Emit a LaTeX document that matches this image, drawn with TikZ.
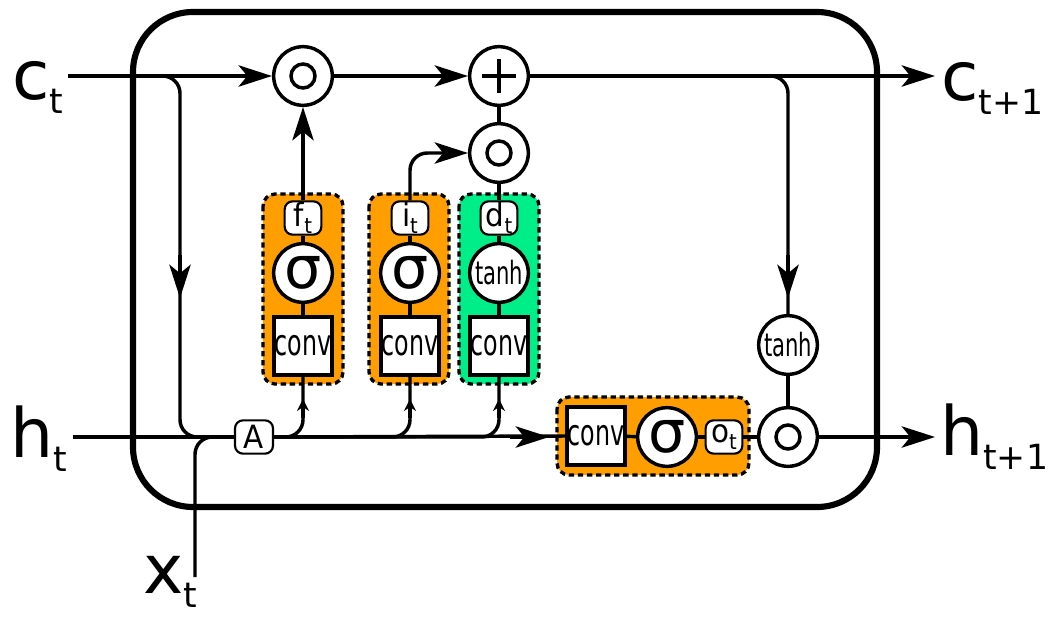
\documentclass[tikz,border=0pt]{standalone}
\usepackage{fontspec}
\setmainfont{DejaVu Sans}
\newfontfamily\condf[FakeStretch=0.66]{DejaVu Sans}
\newfontfamily\lblf[FakeStretch=0.92]{DejaVu Sans}
\usetikzlibrary{arrows.meta}
\definecolor{gorange}{RGB}{255,158,0}
\definecolor{ggreen}{RGB}{0,238,136}
\newcommand\biglbl[2]{{\fontsize{51}{51}\selectfont #1\raisebox{-11pt}{\fontsize{26}{26}\selectfont #2}}}
\newcommand\gatelbl[2]{{\lblf\fontsize{24}{24}\selectfont #1\raisebox{-5pt}{\fontsize{16}{16}\selectfont #2}}}
\begin{document}
\begin{tikzpicture}[x=0.75pt,y=-0.75pt,
  ln/.style={line width=2.6pt},
  arr/.style={ln,-{Stealth[length=25pt,width=16pt,inset=6.5pt]}},
  sarr/.style={ln,-{Stealth[length=9pt,width=9pt,inset=3pt]}},
  opc/.style={circle,draw,line width=2.6pt,fill=white,minimum size=44pt,inner sep=0pt},
  sigc/.style={circle,draw,line width=2.6pt,fill=white,minimum size=44pt,inner sep=0pt,font=\fontsize{44}{44}\selectfont},
  tanhc/.style={circle,draw,line width=2.6pt,fill=white,minimum size=44pt,inner sep=0pt,font=\condf\fontsize{24}{24}\selectfont},
  convbox/.style={rectangle,draw,line width=2.8pt,fill=white,minimum size=43.5pt,inner sep=0pt,font=\condf\fontsize{27}{27}\selectfont},
  lblbox/.style={rectangle,rounded corners=6pt,draw,line width=1.6pt,fill=white,minimum width=27.5pt,minimum height=25pt,inner sep=0pt},
  gatebg/.style={line width=2.5pt,dash pattern=on 4pt off 2.8pt,rounded corners=9pt},
  biglabel/.style={anchor=base west,inner sep=0pt},
]
\useasboundingbox (0,0) rectangle (1049,617);

% outer cell
\draw[line width=4.6pt, rounded corners=45pt] (133,12) rectangle (877,507);

% gate backgrounds
\draw[gatebg, fill=gorange] (263,194) rectangle (343,384);
\draw[gatebg, fill=gorange] (369,194) rectangle (449,384);
\draw[gatebg, fill=ggreen]  (459,194) rectangle (539,384);
\draw[gatebg, fill=gorange] (557,397) rectangle (749,475);

% outer labels
\node[biglabel] (ct)  at (12,99)   {\biglbl{c}{t}};
\node[biglabel] (ct1) at (941,100) {\biglbl{c}{t+1}};
\node[biglabel] (ht)  at (10,457)  {\biglbl{h}{t}};
\node[biglabel] (ht1) at (940,455) {\biglbl{h}{t+1}};
\node[biglabel] (xt)  at (143,593) {\biglbl{x}{t}};

% operator nodes
\node[opc] (mulf) at (303,76) {};
\node[opc] (plus) at (499,76) {};
\node[opc] (muli) at (499,153) {};
\node[opc] (outmul) at (788,437) {};
\node[tanhc] (tanhcell) at (788,345) {tanh};

\foreach \n in {mulf,muli,outmul}
  \draw[line width=2.6pt] (\n.center) circle[radius=9pt];
\draw[line width=2.8pt] ([xshift=-12.4pt]plus.center) -- ([xshift=12.4pt]plus.center);
\draw[line width=2.8pt] ([yshift=-12.4pt]plus.center) -- ([yshift=12.4pt]plus.center);

% forget gate
\node[lblbox] (flab) at (303,218) {\gatelbl{f}{t}};
\node[sigc]   (fsig) at (303,273) {σ};
\node[convbox] (fconv) at (303,346) {conv};
% input gate
\node[lblbox] (ilab) at (410,218) {\gatelbl{i}{t}};
\node[sigc]   (isig) at (410,273) {σ};
\node[convbox] (iconv) at (410,346) {conv};
% candidate
\node[lblbox] (dlab) at (499,218) {\gatelbl{d}{t}};
\node[tanhc]  (dtanh) at (499,273) {tanh};
\node[convbox] (dconv) at (499,346) {conv};
% output gate
\node[convbox] (oconv) at (596,436) {conv};
\node[sigc]   (osig) at (667,437) {σ};
\node[lblbox] (olab) at (724,437) {\gatelbl{o}{t}};

% A node
\node[lblbox, font=\lblf\fontsize{24}{24}\selectfont, minimum width=28.5pt, minimum height=25pt] (A) at (254,437) {A};

% coordinates
\coordinate (cin) at (68,76);
\coordinate (cout) at (935,76);
\coordinate (hin) at (73,437);
\coordinate (hout) at (935,437);
\coordinate (cbrA) at (150,76);
\coordinate (cbrB) at (180,76);
\coordinate (cbrT1) at (180,255);
\coordinate (cbrT2) at (180,298);
\coordinate (xin) at (195,577);
\coordinate (ctap) at (740,76);
\coordinate (tT1) at (788,255);
\coordinate (tT2) at (788,298);
\coordinate (hT1) at (510,437);
\coordinate (hT2) at (549,437);
\coordinate (fT1) at (303,418);
\coordinate (fT2) at (303,399);
\coordinate (iT1) at (410,418);
\coordinate (iT2) at (410,399);
\coordinate (dT1) at (499,418);
\coordinate (dT2) at (499,399);

% cell state line
\draw[arr] (cin) -- (mulf);
\draw[arr] (mulf) -- (plus);
\draw[arr] (plus) -- (cout);

% c -> h branch
\draw[ln, rounded corners=13pt] (cbrA) -- (cbrB) |- (A.west);
\draw[arr] (cbrT1) -- (cbrT2);
% x input
\draw[ln, rounded corners=13pt] (xin) |- (A.west);
% h input
\draw[ln] (hin) -- (A.west);
\draw[ln] (A.east) -- (oconv.west);
\draw[arr] (hT1) -- (hT2);

% branches from A
\draw[ln, rounded corners=13pt] (A.east) -| (fconv.south);
\draw[ln, rounded corners=13pt] (A.east) -| (iconv.south);
\draw[ln, rounded corners=13pt] (A.east) -| (dconv.south);
\draw[sarr] (fT1) -- (fT2);
\draw[sarr] (iT1) -- (iT2);
\draw[sarr] (dT1) -- (dT2);

% gate internals
\draw[ln] (fconv) -- (fsig);
\draw[ln] (fsig) -- (flab);
\draw[arr] (flab) -- (mulf);
\draw[ln] (iconv) -- (isig);
\draw[ln] (isig) -- (ilab);
\draw[arr, rounded corners=13pt] (ilab.north) |- (muli.west);
\draw[ln] (dconv) -- (dtanh);
\draw[ln] (dtanh) -- (dlab);
\draw[ln] (dlab) -- (muli);
\draw[ln] (muli) -- (plus);

% output path
\draw[ln] (oconv) -- (osig);
\draw[ln] (osig) -- (olab);
\draw[ln] (olab) -- (outmul);
\draw[ln, rounded corners=13pt] (ctap) -| (tanhcell.north);
\draw[arr] (tT1) -- (tT2);
\draw[ln] (tanhcell) -- (outmul);
\draw[arr] (outmul) -- (hout);
\end{tikzpicture}
\end{document}
